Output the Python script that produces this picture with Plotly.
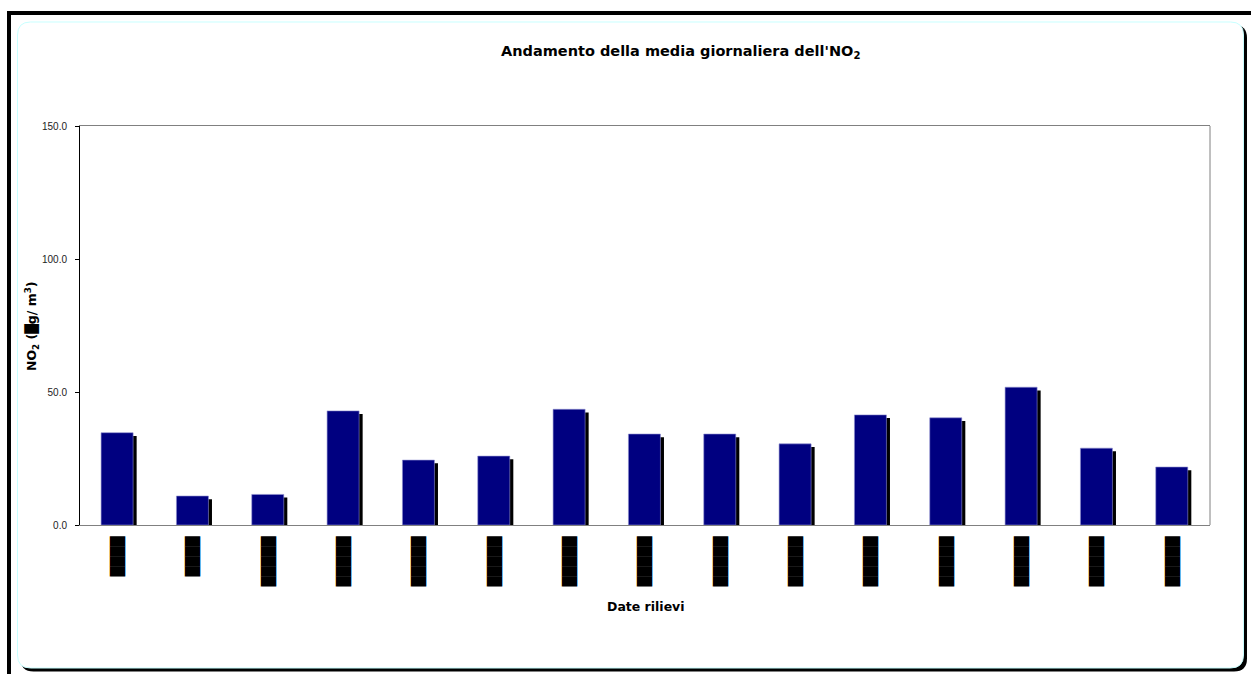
import plotly.graph_objects as go

W, H = 1251, 674

# ---- data ----
date_labels = ["████", "████", "█████", "█████", "█████", "█████", "█████", "█████",
               "█████", "█████", "█████", "█████", "█████", "█████", "█████"]
no2_values = [34.7, 10.9, 11.5, 42.9, 24.4, 25.9, 43.5, 34.2, 34.2, 30.5, 41.4, 40.3, 51.8, 28.9, 21.8]
y_tick_vals = [0, 50, 100, 150]
y_tick_text = ["0.0", "50.0", "100.0", "150.0"]

positions = list(range(len(no2_values)))


def px(x):
    return x / W


def py(y):
    return 1 - y / H


def rounded(x0, y0, x1, y1, r):
    pts = [
        ("M", [(x0 + r, y0)]), ("L", [(x1 - r, y0)]), ("Q", [(x1, y0), (x1, y0 + r)]),
        ("L", [(x1, y1 - r)]), ("Q", [(x1, y1), (x1 - r, y1)]),
        ("L", [(x0 + r, y1)]), ("Q", [(x0, y1), (x0, y1 - r)]),
        ("L", [(x0, y0 + r)]), ("Q", [(x0, y0), (x0 + r, y0)]),
    ]
    s = ""
    for cmd, ps in pts:
        s += cmd + " " + " ".join(f"{px(a):.5f},{py(b):.5f}" for a, b in ps) + " "
    return s + "Z"


bar_w = 0.425
main_off = -0.22
shadow_shift = 0.047

fig = go.Figure()
fig.add_trace(go.Bar(
    x=positions, y=[v - 0.5 for v in no2_values], base=-0.7,
    width=bar_w, offset=main_off + shadow_shift,
    marker=dict(color="black", line=dict(width=0)),
    cliponaxis=False, hoverinfo="skip", showlegend=False,
))
fig.add_trace(go.Bar(
    x=positions, y=no2_values,
    width=bar_w, offset=main_off,
    marker=dict(color="#000080", line=dict(width=0.6, color="#9090d0")),
    showlegend=False, name="NO2",
))

x_dom = [px(80), px(1210)]
y_dom = [py(525), py(126)]

shapes = [
    # outer black frame parts
    dict(type="rect", xref="paper", yref="paper", x0=px(7), x1=1.02, y0=py(15), y1=py(11),
         fillcolor="black", line=dict(width=0), layer="below"),
    dict(type="rect", xref="paper", yref="paper", x0=px(7), x1=px(11), y0=-0.02, y1=py(11),
         fillcolor="black", line=dict(width=0), layer="below"),
    # shadow of the chart area
    dict(type="path", xref="paper", yref="paper", path=rounded(20.5, 25, 1247, 671.5, 13),
         fillcolor="black", line=dict(width=0), layer="below"),
    # chart area
    dict(type="path", xref="paper", yref="paper", path=rounded(17.5, 22, 1243.5, 668, 13),
         fillcolor="white", line=dict(width=1, color="#c8ffff"), layer="below"),
    # right border of plot area
    dict(type="line", xref="paper", yref="paper", x0=x_dom[1], x1=x_dom[1], y0=y_dom[0], y1=y_dom[1],
         line=dict(width=1, color="#808080"), layer="below"),
]

annotations = [
    dict(text="<b>Andamento della media giornaliera dell'NO<sub>2</sub></b>", xref="paper", yref="paper",
         x=px(680), y=py(52), xanchor="center", yanchor="middle", showarrow=False,
         font=dict(family="DejaVu Sans", size=14.5, color="black")),
    dict(text="<b>NO<sub>2</sub> (█g/ m<sup>3</sup>)</b>", xref="paper", yref="paper",
         x=px(32), y=py(326), xanchor="center", yanchor="middle", showarrow=False, textangle=-90,
         font=dict(family="DejaVu Sans", size=12.5, color="black")),
    dict(text="<b>Date rilievi</b>", xref="paper", yref="paper",
         x=px(646), y=py(606), xanchor="center", yanchor="middle", showarrow=False,
         font=dict(family="DejaVu Sans", size=12.5, color="black")),
]

fig.update_layout(
    width=W, height=H,
    autosize=False,
    margin=dict(l=0, r=0, t=0, b=0, pad=0, autoexpand=False),
    paper_bgcolor="white",
    plot_bgcolor="rgba(0,0,0,0)",
    barmode="overlay",
    shapes=shapes,
    annotations=annotations,
    xaxis=dict(
        domain=x_dom, range=[-0.5, len(no2_values) - 0.5], automargin=False,
        tickmode="array", tickvals=positions, ticktext=date_labels, tickangle=-90,
        ticks="", showgrid=False, zeroline=False,
        showline=True, linecolor="#808080", linewidth=1, mirror=True,
        tickfont=dict(family="DejaVu Sans", size=13, color="black"),
        ticklabelstandoff=5,
    ),
    yaxis=dict(
        domain=y_dom, range=[0, 150], automargin=False,
        tickmode="array", tickvals=y_tick_vals, ticktext=y_tick_text,
        ticks="outside", ticklen=4, tickcolor="black", tickwidth=1,
        showgrid=False, zeroline=False,
        showline=True, linecolor="black", linewidth=1,
        tickfont=dict(family="Liberation Sans", size=10, color="#222222"),
        ticklabelstandoff=6,
    ),
)

fig.write_html("out.html")
